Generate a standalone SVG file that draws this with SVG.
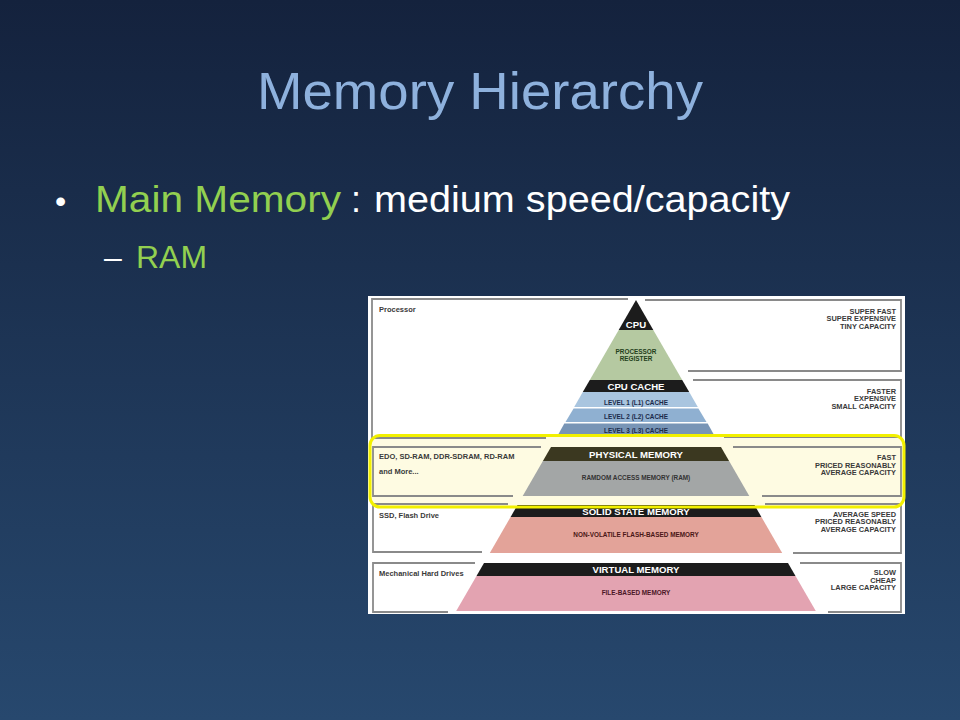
<svg xmlns="http://www.w3.org/2000/svg" width="960" height="720" viewBox="0 0 960 720">
<defs>
<linearGradient id="bg" x1="0" y1="0" x2="0" y2="1">
<stop offset="0" stop-color="#14223d"/>
<stop offset="1" stop-color="#27486e"/>
</linearGradient>
<style>
.title{font-family:"Liberation Sans",Arial,sans-serif;font-size:52px;fill:#8eb1dd}
.body{font-family:"Liberation Sans",Arial,sans-serif;font-size:36px}
.w{fill:#ffffff}
.g{fill:#92d050}
.frame{fill:none;stroke:#8a8a8a;stroke-width:1.8}
.lab{font-family:"Liberation Sans",Arial,sans-serif;font-weight:bold;font-size:7.5px;fill:#3a3a3a}
.rlab{font-family:"Liberation Sans",Arial,sans-serif;font-weight:bold;font-size:7.4px;fill:#3a3a3a;text-anchor:end}
.big{font-family:"Liberation Sans",Arial,sans-serif;font-weight:bold;font-size:9.6px;fill:#ffffff;text-anchor:middle}
.sm{font-family:"Liberation Sans",Arial,sans-serif;font-weight:bold;font-size:6.4px;text-anchor:middle}
.band{fill:#1c1c1c}
</style>
</defs>
<rect x="0" y="0" width="960" height="720" fill="url(#bg)"/>

<g id="title">
<text class="title" x="257" y="109" textLength="446" lengthAdjust="spacingAndGlyphs">Memory Hierarchy</text>
</g>
<g id="bullets">
<text class="body w" x="55" y="212" style="font-size:32px">•</text>
<text class="body g" x="95" y="212" textLength="246" lengthAdjust="spacingAndGlyphs">Main Memory</text>
<text class="body w" x="351" y="212">:</text>
<text class="body w" x="374" y="212" textLength="416" lengthAdjust="spacingAndGlyphs">medium speed/capacity</text>
<text class="body w" x="104" y="268" style="font-size:32px">–</text>
<text class="body g" x="136" y="268" style="font-size:32px" textLength="71" lengthAdjust="spacingAndGlyphs">RAM</text>
</g>

<g id="picture">
<rect x="368" y="296" width="537" height="318" fill="#ffffff"/>
<rect x="370" y="435.5" width="534" height="71.5" rx="10" fill="#fefbe2"/>
</g>

<g id="frames">
<path class="frame" d="M628,299 H372 V438 H546"/>
<path class="frame" d="M541,447 H373 V496 H513"/>
<path class="frame" d="M508,504 H373 V552 H482"/>
<path class="frame" d="M475,563 H373 V612 H448"/>
<path class="frame" d="M645,300 H901 V371 H688"/>
<path class="frame" d="M693,380 H901 V437 H724"/>
<path class="frame" d="M733,447 H901 V496 H762"/>
<path class="frame" d="M765,504 H901 V553 H793"/>
<path class="frame" d="M800,563 H901 V612 H828"/>
</g>

<g id="labels-left">
<text class="lab" x="379" y="312">Processor</text>
<text class="lab" x="379" y="459">EDO, SD-RAM, DDR-SDRAM, RD-RAM</text>
<text class="lab" x="379" y="474">and More...</text>
<text class="lab" x="379" y="518">SSD, Flash Drive</text>
<text class="lab" x="379" y="576">Mechanical Hard Drives</text>
</g>

<g id="labels-right">
<text class="rlab" x="896" y="313.7">SUPER FAST</text>
<text class="rlab" x="896" y="321.3">SUPER EXPENSIVE</text>
<text class="rlab" x="896" y="329">TINY CAPACITY</text>
<text class="rlab" x="896" y="393.5">FASTER</text>
<text class="rlab" x="896" y="401">EXPENSIVE</text>
<text class="rlab" x="896" y="408.5">SMALL CAPACITY</text>
<text class="rlab" x="896" y="460">FAST</text>
<text class="rlab" x="896" y="467.6">PRICED REASONABLY</text>
<text class="rlab" x="896" y="475.2">AVERAGE CAPACITY</text>
<text class="rlab" x="896" y="516.7">AVERAGE SPEED</text>
<text class="rlab" x="896" y="524.3">PRICED REASONABLY</text>
<text class="rlab" x="896" y="532">AVERAGE CAPACITY</text>
<text class="rlab" x="896" y="575">SLOW</text>
<text class="rlab" x="896" y="582.7">CHEAP</text>
<text class="rlab" x="896" y="590.3">LARGE CAPACITY</text>
</g>

<g id="cpu">
<polygon class="band" points="636,300 653.3,330 618.7,330"/>
<text class="big" x="636" y="328">CPU</text>
</g>
<g id="processor-register">
<polygon points="618.7,330 653.3,330 682.2,380 589.8,380" fill="#b5c9a1"/>
<text class="sm" x="636" y="354" fill="#23401b">PROCESSOR</text>
<text class="sm" x="636" y="360.7" fill="#23401b">REGISTER</text>
</g>
<g id="cpu-cache">
<polygon class="band" points="589.8,380 682.2,380 689.2,392 582.8,392"/>
<text class="big" x="636" y="390">CPU CACHE</text>
</g>
<g id="l1">
<polygon points="582.8,392 689.2,392 697.8,407 574.2,407" fill="#a9c5df"/>
<text class="sm" x="636" y="405" fill="#1b2b4a">LEVEL 1 (L1) CACHE</text>
</g>
<g id="l2">
<polygon points="573.6,408.5 698.4,408.5 706.5,422 565.5,422" fill="#8fb0d1"/>
<text class="sm" x="636" y="419" fill="#1b2b4a">LEVEL 2 (L2) CACHE</text>
</g>
<g id="l3">
<polygon points="564.3,423.5 707.7,423.5 713.5,434 558.5,434" fill="#7895b6"/>
<text class="sm" x="636" y="432.7" fill="#1b2b4a">LEVEL 3 (L3) CACHE</text>
</g>
<g id="physical-memory">
<polygon points="551,447 721,447 729.1,461 542.9,461" fill="#3b3820"/>
<text class="big" x="636" y="457.5">PHYSICAL MEMORY</text>
</g>
<g id="ram">
<polygon points="542.9,461 729.1,461 749.3,496 522.7,496" fill="#a3a6a6"/>
<text class="sm" x="636" y="480" fill="#333333">RAMDOM ACCESS MEMORY (RAM)</text>
</g>
<g id="solid-state">
<polygon class="band" points="517.5,505 754.5,505 761.4,517 510.6,517"/>
<text class="big" x="636" y="515">SOLID STATE MEMORY</text>
</g>
<g id="flash">
<polygon points="510.6,517 761.4,517 782.2,553 489.8,553" fill="#e3a399"/>
<text class="sm" x="636" y="537.3" fill="#4a1616">NON-VOLATILE FLASH-BASED MEMORY</text>
</g>
<g id="virtual-memory">
<polygon class="band" points="484,563 788,563 795.5,576 476.5,576"/>
<text class="big" x="636" y="572.7">VIRTUAL MEMORY</text>
</g>
<g id="file-based">
<polygon points="476.5,576 795.5,576 815.8,611 456.2,611" fill="#e3a3b1"/>
<text class="sm" x="636" y="595" fill="#4a1626">FILE-BASED MEMORY</text>
</g>

<g id="highlight">
<rect x="370" y="435.5" width="534" height="71.5" rx="10" fill="none" stroke="#f2f000" stroke-width="3"/>
</g>
</svg>
